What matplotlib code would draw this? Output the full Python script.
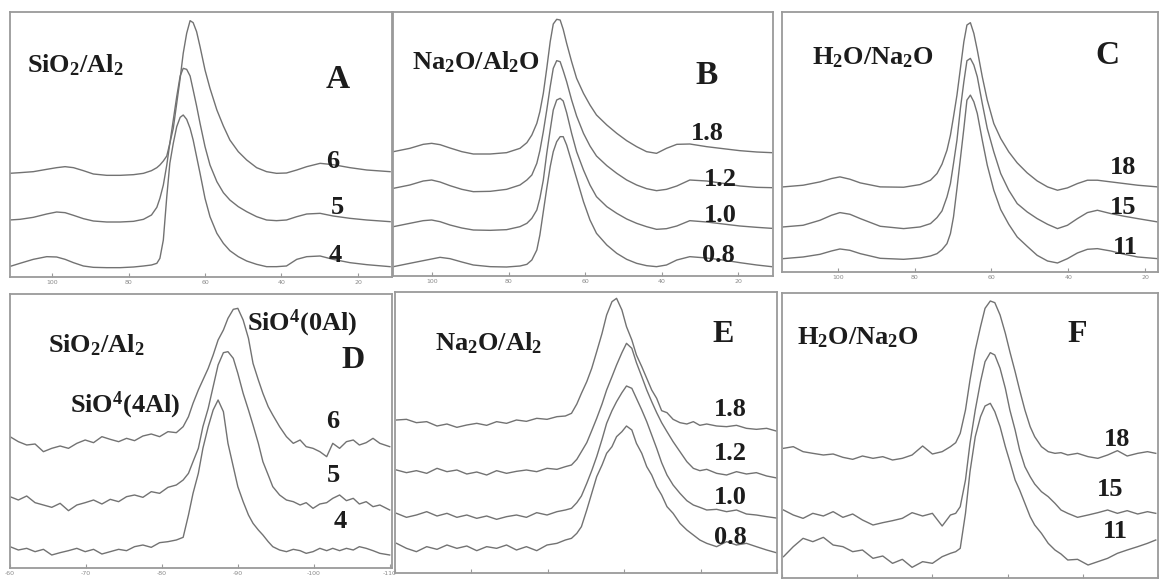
import matplotlib
matplotlib.use('Agg')
import matplotlib.pyplot as plt

plt.rcParams['mathtext.fontset'] = 'custom'
plt.rcParams['mathtext.rm'] = 'Liberation Serif:bold'
plt.rcParams['mathtext.bf'] = 'Liberation Serif:bold'
plt.rcParams['mathtext.it'] = 'Liberation Serif:bold:italic'
plt.rcParams['mathtext.default'] = 'rm'

# ---------------- data (chemical shift in ppm, intensity in a.u.) ----------------
top_ticks = [100, 80, 60, 40, 20]
top_ticklabels = ['100', '80', '60', '40', '20']
bottom_ticks = [-60, -70, -80, -90, -100, -110]
bottom_ticklabels = ['-60', '-70', '-80', '-90', '-100', '-110']

# Panel A : SiO2/Al2 series
A_ppm = [111.2, 108.4, 104.9, 101.4, 98.8, 96.6, 94.4, 91.8, 89.2, 85.7, 82.2, 78.7, 76.1, 74.0, 72.6,
         71.8, 70.9, 70.0, 69.2, 68.3, 67.4, 66.5, 65.7, 64.8, 63.9, 63.1, 62.2, 61.3, 60.0, 58.7,
         56.9, 55.2, 53.5, 51.3, 49.1, 46.5, 43.9, 41.3, 38.7, 36.0, 33.4, 29.9, 26.5, 22.1, 17.7, 11.6]
A_6 = [311, 313, 316, 323, 328, 331, 328, 319, 309, 305, 305, 307, 311, 319, 328, 336, 348, 363, 401, 446,
       521, 596, 671, 731, 769, 763, 736, 691, 621, 566, 501, 453, 411, 376, 351, 328, 316, 311, 312, 321,
       331, 341, 337, 328, 321, 316]
A_5 = [171, 173, 179, 189, 195, 193, 185, 175, 168, 165, 165, 167, 173, 186, 209, 236, 276, 336, 401, 471,
       541, 603, 626, 623, 603, 561, 513, 461, 391, 336, 286, 253, 231, 211, 196, 181, 171, 169, 171, 181,
       189, 191, 183, 176, 171, 166]
A_4 = [31, 41, 53, 61, 60, 53, 43, 33, 29, 28, 28, 30, 33, 36, 41, 56, 111, 241, 341, 401,
       451, 479, 486, 473, 446, 411, 361, 311, 236, 181, 131, 101, 79, 61, 48, 38, 31, 31, 33, 53,
       61, 63, 53, 43, 37, 31]
A_labels = ['6', '5', '4']

# Panel B : Na2O/Al2O series
B_ppm = [110.1, 105.8, 102.3, 100.1, 97.9, 95.3, 92.2, 89.2, 84.8, 80.5, 77.0, 75.2, 73.9, 72.6, 71.8,
         70.9, 70.0, 69.1, 68.3, 67.4, 66.5, 65.7, 64.8, 63.5, 62.2, 60.4, 58.7, 57.0, 54.3, 51.7,
         49.1, 46.5, 43.9, 41.3, 38.7, 36.0, 32.6, 28.2, 23.9, 19.5, 15.1, 11.2]
B_18 = [373, 383, 395, 398, 394, 384, 373, 366, 366, 370, 383, 400, 423, 458, 493, 548, 623, 703, 756, 770,
        768, 740, 698, 643, 593, 548, 513, 483, 453, 428, 406, 388, 373, 368, 383, 395, 396, 388, 382, 376,
        372, 370]
B_12 = [263, 273, 285, 288, 282, 271, 260, 253, 254, 260, 273, 288, 303, 338, 376, 433, 498, 568, 623, 646,
        643, 616, 583, 528, 480, 428, 390, 360, 331, 308, 288, 273, 262, 256, 260, 270, 288, 285, 278, 270,
        266, 265]
B_10 = [148, 158, 166, 168, 163, 153, 144, 138, 137, 139, 148, 158, 173, 198, 233, 288, 368, 438, 498, 528,
        533, 525, 490, 428, 373, 318, 273, 238, 208, 188, 171, 158, 148, 140, 142, 150, 166, 162, 156, 150,
        146, 143]
B_08 = [28, 38, 46, 51, 56, 52, 42, 33, 28, 27, 30, 35, 48, 78, 123, 193, 263, 328, 373, 403,
        418, 418, 393, 343, 293, 223, 168, 128, 93, 68, 50, 38, 31, 28, 33, 48, 58, 54, 48, 40,
        33, 28]
B_labels = ['1.8', '1.2', '1.0', '0.8']

# Panel C : H2O/Na2O series
C_ppm = [114.3, 109.1, 104.7, 101.7, 99.5, 96.9, 94.2, 89.0, 82.9, 78.6, 75.9, 74.2, 72.9, 71.6, 70.7,
         69.9, 69.0, 68.1, 67.2, 66.4, 65.5, 64.6, 63.7, 62.4, 61.1, 59.4, 57.6, 55.5, 53.3, 50.7,
         48.1, 45.4, 42.8, 40.2, 37.6, 35.0, 32.4, 28.9, 25.4, 21.9, 16.7]
C_18 = [255, 260, 270, 280, 285, 278, 267, 255, 254, 262, 275, 295, 323, 365, 410, 465, 530, 610, 690, 740,
        747, 715, 665, 585, 515, 445, 400, 360, 327, 297, 273, 255, 245, 252, 265, 275, 275, 270, 265, 260,
        255]
C_15 = [135, 140, 155, 170, 178, 173, 160, 137, 130, 135, 145, 163, 183, 225, 265, 325, 395, 490, 570, 633,
        640, 620, 585, 505, 430, 360, 295, 245, 205, 180, 160, 143, 130, 140, 160, 178, 185, 175, 167, 160,
        150]
C_11 = [40, 45, 53, 63, 69, 65, 55, 41, 38, 42, 48, 55, 67, 85, 115, 165, 250, 340, 430, 515,
        530, 510, 475, 395, 320, 245, 187, 143, 105, 77, 50, 33, 27, 40, 57, 68, 70, 63, 53, 45,
        40]
C_labels = ['18', '15', '11']

# Panel D : SiO2/Al2 series
D_ppm = [-60.0, -61.1, -62.2, -63.3, -64.4, -65.5, -66.6, -67.7, -68.8, -69.9,
         -71.0, -72.1, -73.2, -74.3, -75.35, -76.4, -77.5, -78.6, -79.7, -80.8,
         -81.9, -82.8, -83.5, -84.1, -84.8, -85.4, -86.1, -86.75, -87.4, -88.1,
         -88.7, -89.4, -90.0, -90.7, -91.4, -92.0, -92.7, -93.3, -94.0, -94.6,
         -95.5, -96.4, -97.3, -98.2, -99.0, -99.9, -100.8, -101.7, -102.5, -103.4,
         -104.3, -105.2, -106.0, -106.9, -107.8, -108.7, -110.0]
D_6 = [394, 379, 369, 372, 349, 359, 366, 359, 374, 384, 376, 394, 386, 379, 389, 382, 396, 402, 394, 409,
       406, 424, 454, 494, 534, 564, 599, 639, 684, 714, 749, 776, 779, 744, 689, 614, 564, 524, 484, 459,
       424, 394, 374, 384, 364, 359, 349, 334, 374, 359, 379, 384, 369, 376, 389, 374, 364]
D_5 = [214, 204, 216, 196, 189, 182, 194, 172, 189, 196, 204, 192, 206, 199, 214, 219, 212, 229, 224, 242,
       249, 264, 284, 319, 359, 424, 479, 544, 609, 646, 649, 629, 584, 524, 474, 429, 374, 319, 279, 244,
       219, 204, 199, 189, 196, 179, 192, 196, 209, 219, 202, 209, 192, 199, 184, 189, 174]
D_4 = [64, 54, 59, 49, 56, 39, 46, 52, 59, 49, 56, 42, 49, 56, 52, 64, 69, 62, 76, 79,
       84, 92, 159, 224, 284, 359, 424, 474, 504, 469, 374, 304, 244, 199, 159, 134, 114, 99, 79, 64,
       54, 49, 56, 52, 44, 49, 59, 52, 59, 52, 59, 54, 64, 59, 52, 44, 39]
D_labels = ['6', '5', '4']

# Panel E : Na2O/Al2 series
E_ppm = [-60.2, -61.5, -62.8, -64.15, -65.5, -66.8, -68.1, -69.4, -70.7, -72.0,
         -73.3, -74.6, -75.9, -77.2, -78.55, -79.9, -81.2, -82.3, -83.1, -83.8,
         -84.4, -85.1, -85.75, -86.4, -87.1, -87.7, -88.4, -89.0, -89.7, -90.3,
         -91.0, -91.6, -92.3, -92.95, -93.6, -94.25, -94.9, -95.6, -96.4, -97.3,
         -98.2, -99.05, -99.9, -100.8, -102.1, -103.4, -104.7, -106.0, -107.3, -108.65,
         -110.2]
E_18 = [459, 461, 451, 454, 441, 447, 437, 444, 449, 443, 454, 449, 459, 455, 464, 461, 469, 471, 479, 507,
        539, 574, 614, 664, 719, 774, 814, 824, 789, 739, 699, 654, 619, 584, 549, 524, 487, 481, 461, 451,
        447, 454, 443, 447, 441, 439, 443, 434, 431, 434, 424]
E_12 = [309, 301, 307, 299, 314, 304, 309, 297, 303, 294, 307, 299, 305, 309, 304, 314, 311, 319, 324, 341,
        364, 391, 427, 464, 507, 549, 589, 624, 661, 689, 674, 631, 589, 549, 514, 481, 451, 424, 394, 364,
        334, 314, 307, 311, 299, 294, 304, 297, 301, 291, 284]
E_10 = [179, 167, 174, 184, 171, 179, 167, 174, 164, 171, 161, 169, 174, 167, 181, 174, 184, 189, 194, 211,
        231, 269, 307, 349, 401, 449, 487, 514, 541, 561, 554, 524, 489, 454, 414, 374, 331, 294, 264, 239,
        217, 204, 197, 189, 191, 184, 189, 177, 174, 169, 164]
E_08 = [89, 74, 64, 79, 71, 84, 74, 81, 67, 79, 74, 84, 69, 79, 67, 84, 89, 99, 104, 119,
        139, 189, 239, 289, 324, 359, 379, 409, 424, 441, 429, 389, 359, 319, 294, 259, 234, 199, 179, 149,
        129, 114, 99, 89, 79, 94, 84, 89, 79, 69, 59]
E_labels = ['1.8', '1.2', '1.0', '0.8']

# Panel F : H2O/Na2O series
F_ppm = [-60.2, -61.5, -62.8, -64.1, -65.5, -66.8, -68.1, -69.4, -70.7, -72.1,
         -73.4, -74.7, -76.0, -77.3, -78.7, -80.0, -81.3, -82.4, -83.1, -83.7,
         -84.4, -85.0, -85.7, -86.4, -87.0, -87.7, -88.3, -89.0, -89.7, -90.3,
         -91.0, -91.6, -92.3, -93.0, -93.6, -94.5, -95.4, -96.3, -97.1, -98.0,
         -99.3, -100.7, -102.0, -103.3, -104.6, -105.9, -107.3, -108.6, -109.7]
F_18 = [389, 394, 379, 374, 369, 372, 362, 356, 366, 359, 364, 354, 359, 369, 396, 372, 379, 394, 406, 434,
        504, 594, 684, 754, 809, 831, 826, 789, 734, 679, 619, 564, 504, 454, 424, 394, 379, 374, 376, 369,
        374, 364, 359, 369, 382, 366, 374, 379, 374]
F_15 = [204, 189, 179, 194, 186, 199, 182, 192, 174, 159, 166, 172, 179, 196, 186, 194, 156, 189, 194, 214,
        294, 404, 504, 589, 649, 676, 669, 629, 569, 504, 444, 384, 334, 304, 282, 259, 244, 224, 204, 194,
        182, 189, 196, 204, 194, 202, 192, 199, 194]
F_11 = [64, 94, 119, 109, 122, 99, 94, 79, 84, 59, 66, 44, 56, 32, 49, 44, 64, 74, 79, 89,
        194, 319, 424, 484, 516, 524, 499, 454, 394, 349, 294, 264, 224, 184, 159, 134, 104, 84, 72, 54,
        56, 39, 49, 59, 74, 84, 94, 104, 114]
F_labels = ['18', '15', '11']

# ---------------- layout ----------------
W, H = 1159, 581
fig = plt.figure(figsize=(W / 100, H / 100), dpi=100)
LINE = '#727272'
TXT = '#1c1c1c'
SERIF = 'Liberation Serif'


def add_panel(box, xlim, ylim, ticks, ticklabels):
    l, t, r, b = box
    ax = fig.add_axes([l / W, 1 - b / H, (r - l) / W, (b - t) / H])
    ax.set_xlim(*xlim)
    ax.set_ylim(*ylim)
    ax.set_xticks(ticks)
    if ticklabels:
        ax.set_xticklabels(ticklabels, fontsize=4.5, color='#8a8a8a')
    else:
        ax.set_xticklabels([])
    ax.tick_params(axis='x', direction='in', length=3, width=0.8, color='#9a9a9a', pad=2)
    ax.set_yticks([])
    for s in ax.spines.values():
        s.set_color('#9a9a9a')
        s.set_linewidth(1.3)
    return ax


def label(x, y, s, size, ha='center'):
    fig.text(x / W, 1 - y / H, s, fontsize=size, ha=ha, va='center',
             family=SERIF, weight='bold', color=TXT)


panels = [
    ((10, 12, 392, 277), (111.0, 11.1), (0, 795), top_ticks, top_ticklabels, A_ppm, [A_6, A_5, A_4]),
    ((393, 12, 773, 276), (110.2, 10.85), (0, 792), top_ticks, top_ticklabels, B_ppm, [B_18, B_12, B_10, B_08]),
    ((782, 12, 1158, 272), (114.6, 16.6), (0, 779), top_ticks, top_ticklabels, C_ppm, [C_18, C_15, C_11]),
    ((10, 294, 392, 568), (-60.0, -110.3), (0, 822), bottom_ticks, bottom_ticklabels, D_ppm, [D_6, D_5, D_4]),
    ((395, 292, 777, 573), (-60.0, -110.0), (0, 843), bottom_ticks, None, E_ppm, [E_18, E_12, E_10, E_08]),
    ((782, 293, 1158, 578), (-60.0, -109.6), (0, 855), bottom_ticks, None, F_ppm, [F_18, F_15, F_11]),
]

for box, xlim, ylim, ticks, tlabels, xs, series in panels:
    ax = add_panel(box, xlim, ylim, ticks, tlabels)
    for ys in series:
        ax.plot(xs, ys, color=LINE, lw=1.0)

# ---------------- annotations ----------------
TS = 19     # composition titles
NS = 19     # series values
LS = 24     # panel letters
# A
label(27, 65, 'SiO$_2$/Al$_2$', TS, ha='left')
label(338, 80, 'A', LS)
for s, (x, y) in zip(A_labels, [(333, 162), (337, 208), (335, 255)]):
    label(x, y, s, NS)
# B
label(412, 62, 'Na$_2$O/Al$_2$O', TS, ha='left')
label(707, 75, 'B', LS)
for s, (x, y) in zip(B_labels, [(707, 133), (720, 180), (720, 215), (718, 255)]):
    label(x, y, s, NS)
# C
label(812, 58, 'H$_2$O/Na$_2$O', TS, ha='left')
label(1107, 55, 'C', LS)
for s, (x, y) in zip(C_labels, [(1123, 167), (1123, 207), (1125, 248)]):
    label(x, y, s, NS)
# D
label(247, 323, 'SiO$^4$(0Al)', TS, ha='left')
label(48, 345, 'SiO$_2$/Al$_2$', TS, ha='left')
label(70, 405, 'SiO$^4$(4Al)', TS, ha='left')
label(353, 360, 'D', LS - 1)
for s, (x, y) in zip(D_labels, [(333, 422), (333, 475), (340, 522)]):
    label(x, y, s, NS)
# E
label(435, 343, 'Na$_2$O/Al$_2$', TS, ha='left')
label(723, 335, 'E', LS - 1)
for s, (x, y) in zip(E_labels, [(730, 410), (730, 453), (730, 497), (730, 537)]):
    label(x, y, s, NS)
# F
label(797, 338, 'H$_2$O/Na$_2$O', TS, ha='left')
label(1077, 335, 'F', LS - 1)
for s, (x, y) in zip(F_labels, [(1117, 440), (1110, 490), (1115, 532)]):
    label(x, y, s, NS)

fig.savefig('out.png', dpi=100)
